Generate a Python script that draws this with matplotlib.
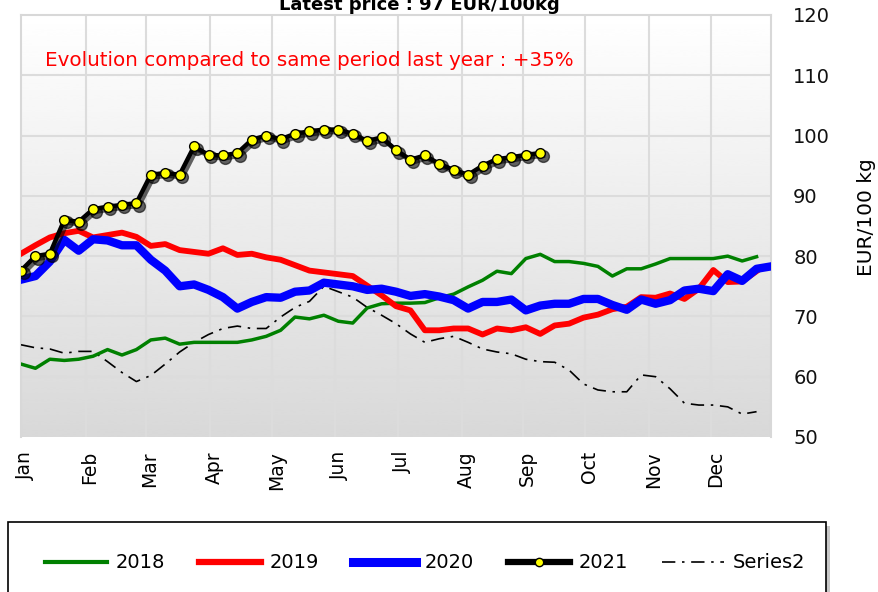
import numpy as np
import matplotlib
matplotlib.use("Agg")
import matplotlib.pyplot as plt
from matplotlib import transforms
from matplotlib.lines import Line2D
from matplotlib.patches import Rectangle

# weekly prices, EUR/100kg (week 1 = start of January)
prices_2018 = [62.1, 61.4, 62.9, 62.7, 62.9, 63.4, 64.5, 63.6, 64.5, 66.1,
               66.4, 65.4, 65.7, 65.7, 65.7, 65.7, 66.1, 66.7, 67.7, 69.9,
               69.6, 70.2, 69.2, 68.9, 71.4, 72.1, 72.2, 72.2, 72.3, 73.1,
               73.7, 74.9, 76.0, 77.5, 77.1, 79.6, 80.3, 79.1, 79.1, 78.8,
               78.3, 76.7, 77.9, 77.9, 78.7, 79.6, 79.6, 79.6, 79.6, 80.0,
               79.2, 79.9]
prices_2019 = [80.4, 81.8, 83.1, 83.8, 84.2, 83.1, 83.5, 83.9, 83.2, 81.7,
               82.0, 81.0, 80.7, 80.4, 81.3, 80.2, 80.4, 79.8, 79.4, 78.5,
               77.6, 77.3, 77.0, 76.7, 75.1, 73.5, 71.7, 71.0, 67.7, 67.7,
               68.0, 68.0, 67.0, 68.0, 67.7, 68.2, 67.1, 68.5, 68.8, 69.8,
               70.3, 71.2, 71.6, 73.2, 73.1, 73.8, 72.9, 74.6, 77.7, 75.7,
               75.8, 77.5]
prices_2020 = [76.1, 76.7, 79.1, 82.7, 80.9, 82.8, 82.6, 81.8, 81.8, 79.4,
               77.6, 75.0, 75.3, 74.4, 73.2, 71.3, 72.4, 73.2, 73.1, 74.1,
               74.3, 75.6, 75.3, 75.0, 74.4, 74.6, 74.1, 73.4, 73.7, 73.3,
               72.7, 71.3, 72.4, 72.4, 72.8, 71.0, 71.8, 72.1, 72.1, 72.9,
               72.9, 71.9, 71.1, 72.8, 72.1, 72.7, 74.3, 74.6, 74.2, 77.0,
               75.9, 77.9, 78.3]
prices_2021 = [77.6, 80.0, 80.4, 86.0, 85.7, 87.8, 88.2, 88.5, 88.8, 93.5,
               93.8, 93.5, 98.2, 96.8, 96.7, 97.1, 99.3, 100.0, 99.4, 100.3,
               100.7, 101.0, 101.0, 100.3, 99.1, 99.7, 97.6, 96.0, 96.7, 95.3,
               94.3, 93.5, 95.0, 96.1, 96.4, 96.8, 97.1]
series2 = [65.3, 64.8, 64.6, 63.9, 64.2, 64.2, 62.5, 60.7, 59.2, 60.2,
           62.1, 64.1, 65.7, 67.0, 68.0, 68.4, 68.0, 68.0, 69.9, 71.5,
           72.5, 75.0, 74.1, 73.2, 71.5, 70.2, 68.8, 67.1, 65.7, 66.3,
           66.7, 65.7, 64.6, 64.1, 63.8, 62.9, 62.5, 62.4, 61.1, 58.8,
           57.8, 57.5, 57.5, 60.3, 60.0, 58.0, 55.6, 55.3, 55.3, 55.0,
           53.8, 54.2]

months = ["Jan", "Feb", "Mar", "Apr", "May", "Jun",
          "Jul", "Aug", "Sep", "Oct", "Nov", "Dec"]
month_starts = [1.0, 5.51, 9.67, 14.11, 18.41, 22.78, 27.14,
                31.58, 35.81, 40.11, 44.55, 48.85]

title = "Latest price : 97 EUR/100kg"
note = "Evolution compared to same period last year : +35%"


def weeks(values):
    return np.arange(1, len(values) + 1)


def main():
    fig = plt.figure(figsize=(8.79, 5.92), dpi=100)
    ax = fig.add_axes([21 / 879, 1 - 437 / 592, 750 / 879, 422 / 592])

    # background gradient, white at top to light grey at bottom
    grad = np.linspace(1.0, 0.0, 256).reshape(-1, 1)
    ax.imshow(grad, extent=[1, 53, 50, 120], aspect="auto", cmap="gray",
              vmin=-5.6, vmax=1.0, zorder=0, interpolation="bicubic")

    ax.set_xlim(1, 53)
    ax.set_ylim(50, 120)

    # grid
    for m in month_starts[1:]:
        ax.axvline(m, color="#dcdcdc", lw=1.5, zorder=1)
    for v in range(60, 120, 10):
        ax.axhline(v, color="#dcdcdc", lw=1.5, zorder=1)

    ax.plot(weeks(series2), series2, color="black", lw=1.2,
            dashes=(8, 4, 1.5, 4), zorder=3)
    ax.plot(weeks(prices_2018), prices_2018, color="#008000", lw=2.5, zorder=4)
    ax.plot(weeks(prices_2019), prices_2019, color="#ff0000", lw=4.2, zorder=5)
    ax.plot(weeks(prices_2020), prices_2020, color="#0000ff", lw=6, zorder=6)

    shadow = transforms.offset_copy(ax.transData, fig=fig, x=2.5, y=-2.5,
                                    units="dots")
    ax.plot(weeks(prices_2021), prices_2021, color="black", lw=3.5,
            marker="o", ms=8.5, mfc="black", mec="black", alpha=0.6,
            transform=shadow, zorder=7)
    ax.plot(weeks(prices_2021), prices_2021, color="black", lw=3.2,
            marker="o", ms=7, mfc="#ffff00", mec="black", mew=1,
            zorder=8)

    # axes styling
    for side in ["left", "right", "top", "bottom"]:
        ax.spines[side].set_color("#d8d8d8")
        ax.spines[side].set_linewidth(1.5)
    ax.spines["bottom"].set_visible(False)

    ax.yaxis.tick_right()
    ax.set_yticks(range(50, 121, 10))
    ax.tick_params(axis="y", length=0, pad=16, labelsize=14,
                   labelcolor="#111111")

    ax.set_xticks([m + 0.28 for m in month_starts])
    ax.set_xticklabels(months, rotation=90, fontsize=13.5, va="top")
    ax.tick_params(axis="x", length=0, pad=10)

    ax.text(0.032, 0.893, note, transform=ax.transAxes, color="#ff0000",
            fontsize=14.3, va="center", ha="left")

    fig.text(419 / 879, 1 - 10 / 592, title, ha="center", va="baseline",
             fontsize=13, fontweight="bold")
    fig.text(867 / 879, 1 - 217 / 592, "EUR/100 kg", rotation=90,
             ha="center", va="center", fontsize=14.5)

    # legend box with shadow
    fig.patches.append(Rectangle((12 / 879, -0.05), 818 / 879,
                                 0.05 + (592 - 522) / 592 - 4 / 592,
                                 transform=fig.transFigure,
                                 facecolor="#909090", edgecolor="none",
                                 alpha=0.5, zorder=0))
    fig.patches.append(Rectangle((8 / 879, -0.05), 818 / 879,
                                 0.05 + (592 - 522) / 592,
                                 transform=fig.transFigure,
                                 facecolor="white", edgecolor="black",
                                 lw=1.2, zorder=1))

    handles = [
        Line2D([], [], color="#008000", lw=3),
        Line2D([], [], color="#ff0000", lw=4.5),
        Line2D([], [], color="#0000ff", lw=6.5),
        Line2D([], [], color="black", lw=4.5, marker="o", ms=6,
               mfc="#ffff00", mec="black"),
        Line2D([], [], color="black", lw=1.2, dashes=(8, 4, 1.5, 4)),
    ]
    labels = ["2018", "2019", "2020", "2021", "Series2"]
    fig.legend(handles, labels, loc="center",
               bbox_to_anchor=(425 / 879, 1 - 563 / 592), ncol=5,
               frameon=False, fontsize=14, handlelength=3.2,
               handletextpad=0.45, columnspacing=1.75)

    fig.savefig("out.png", dpi=100)


if __name__ == "__main__":
    main()
